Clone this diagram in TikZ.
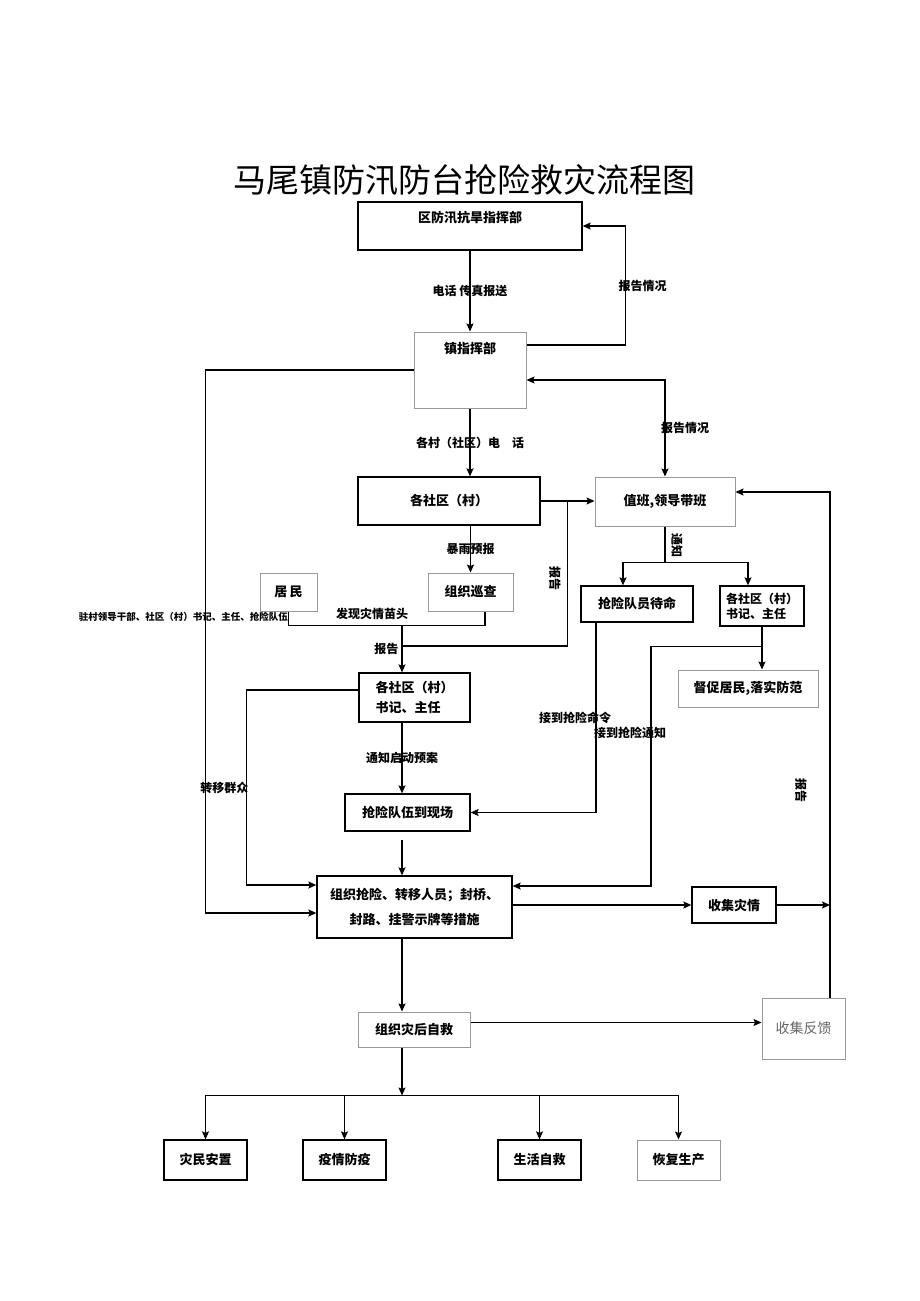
\documentclass[tikz,border=0pt]{standalone}
\usepackage{fontspec}
\newfontfamily\cjk{Noto Sans CJK SC}
\usetikzlibrary{arrows.meta,calc}

\tikzset{
  box/.style={draw, line width=1.3pt, inner sep=0pt, align=center,
    font=\cjk\bfseries\fontsize{13}{20}\selectfont},
  gbox/.style={box, draw=black!40, line width=1pt},
  txt/.style={inner sep=0pt, font=\cjk\bfseries\fontsize{13}{20}\selectfont},
  lbl/.style={inner sep=1pt, font=\cjk\bfseries\fontsize{12}{14}\selectfont},
  wire/.style={line width=1.3pt},
  link/.style={wire, -{Stealth[length=8pt,width=7pt,inset=1.5pt]}},
}

\begin{document}
\begin{tikzpicture}[x=1pt,y=-1pt]
    \useasboundingbox (0,0) rectangle (920,1301);

    % Cim
    \node[font=\cjk\fontsize{33}{36}\selectfont] (title) at (464,180) {马尾镇防汛防台抢险救灾流程图};

    % Felso dobozok
    \node[box, minimum width=224pt, minimum height=48pt] (qu) at (470,226) {};
    \node[txt] (quT) at (470,218) {区防汛抗旱指挥部};
    \node[gbox, minimum width=112pt, minimum height=76pt] (zhen) at (470,370) {};
    \node[txt] (zhenT) at (470,349) {镇指挥部};
    \node[box, minimum width=182pt, minimum height=48pt] (shequ) at (449,501) {各社区（村）};
    \node[gbox, minimum width=140pt, minimum height=49pt] (zhiban) at (665,501.5) {值班,领导带班};

    % Kozepso dobozok
    \node[gbox, minimum width=57pt, minimum height=38pt] (jumin) at (288.5,592) {居\,民};
    \node[gbox, minimum width=85pt, minimum height=38pt] (xuncha) at (470.5,592) {组织巡查};
    \node[box, minimum width=112pt, minimum height=36pt] (daiming) at (637,604) {抢险队员待命};
    \node[box, minimum width=84pt, minimum height=40pt, align=left,
      font=\cjk\bfseries\fontsize{12}{15}\selectfont] (shujiR) at (762,606) {各社区（村）\\书记、主任};
    \node[gbox, minimum width=140pt, minimum height=37pt] (duncu) at (748,688.5) {督促居民,落实防范};
    \node[box, minimum width=111pt, minimum height=49pt, align=left] (shujiM) at (414.5,697.5) {各社区（村）\\书记、主任};
    \node[box, minimum width=125pt, minimum height=37pt] (xianchang) at (407.5,812.5) {抢险队伍到现场};
    \node[box, minimum width=195pt, minimum height=62pt,
      font=\cjk\bfseries\fontsize{13}{25}\selectfont] (qiangxian) at (414.5,907) {组织抢险、转移人员；封桥、\\封路、挂警示牌等措施};
    \node[box, minimum width=84pt, minimum height=36pt] (zaiqing) at (734,905) {收集灾情};
    \node[gbox, minimum width=112pt, minimum height=35pt] (zijiu) at (414,1029.5) {组织灾后自救};
    \node[gbox, minimum width=83pt, minimum height=61pt, text=black!60,
      font=\cjk\fontsize{14}{18}\selectfont] (fankui) at (803.5,1028.5) {收集反馈};

    % Also dobozok
    \node[box, minimum width=83pt, minimum height=40pt] (anzhi) at (205.5,1160) {灾民安置};
    \node[box, minimum width=83pt, minimum height=40pt] (fangyi) at (344.5,1160) {疫情防疫};
    \node[box, minimum width=83pt, minimum height=40pt] (zijiuB) at (539.5,1160) {生活自救};
    \node[gbox, minimum width=83pt, minimum height=40pt] (huifu) at (678.5,1160) {恢复生产};

    % Segedpontok
    \coordinate (fx) at (402,625);
    \coordinate (fk) at ([xshift=26.5pt]fankui.north);

    % Felso nyilak
    \draw[link] (qu.south) -- node[lbl] {电话\ 传真报送} (zhen.north);
    \draw[link] ([yshift=25pt]zhen.east) -- ++(99,0) |- node[lbl, pos=0.25, xshift=17pt] {报告情况} (qu.east);
    \draw[wire, {Stealth[length=8pt,width=7pt,inset=1.5pt]}-{Stealth[length=8pt,width=7pt,inset=1.5pt]}]
      ([yshift=-10pt]zhen.east) -| node[lbl, pos=0.75, xshift=20pt] {报告情况} (zhiban.north);
    \draw[link] (zhen.south) -- node[lbl] {各村（社区）电\quad 话} (zhen.south |- shequ.north);
    \draw[link] (shequ.east) -- (shequ.east -| zhiban.west);
    \draw[link] (xuncha.north |- shequ.south) -- node[lbl] {暴雨预报} (xuncha.north);
    \draw[link] (zhen.west) -- ++(-208,0) |- ([yshift=-6pt]qiangxian.west);

    % Jelzes es bejelentes
    \draw[wire] (jumin.south) -- ++(0,14) -| ([xshift=14.5pt]xuncha.south);
    \node[lbl] (faxian) at (372,614) {发现灾情苗头};
    \node[lbl, left, font=\cjk\bfseries\fontsize{9.5}{11}\selectfont] (zhucun) at (289,617) {驻村领导干部、社区（村）书记、主任、抢险队伍};
    \draw[link] (fx) -- node[lbl, left, xshift=-2pt] {报告} (fx |- shujiM.north);
    \draw[wire] ($(fx)+(0,21)$) -| ($(shequ.east)!0.5!(zhiban.west)$);
    \node[lbl, rotate=-90] (baogaoA) at (555,578) {报告};

    % Ertesites
    \draw[wire] (zhiban.south) -- ++(0,36) coordinate (tz);
    \node[lbl, rotate=-90] (tongzhi) at (677,545) {通知};
    \draw[link] (tz) -| ([xshift=-14pt]daiming.north);
    \draw[link] (tz) -| ([xshift=-14pt]shujiR.north);
    \draw[link] (shujiR.south) -- (shujiR.south |- duncu.north);
    \draw[link] ([xshift=-41pt]daiming.south) |- node[lbl, pos=0.25, xshift=-21pt] {接到抢险命令} (xianchang.east);
    \draw[link] ([yshift=-20pt]shujiR.south) -- ++(-111,0) |- node[lbl, pos=0.18, xshift=-21pt] {接到抢险通知} ([yshift=21pt]qiangxian.east);
    \draw[link] ([yshift=7.5pt]shujiM.west) -- ++(-112,0) |- node[lbl, pos=0.25, xshift=-22pt] {转移群众} ([yshift=22pt]qiangxian.west);
    \draw[link] (fx |- shujiM.south) -- node[lbl] {通知启动预案} (fx |- xianchang.north);
    \draw[link] ($(fx |- xianchang.south)+(0,8)$) -- (fx |- qiangxian.north);

    % Karfelmeres
    \draw[link] (qiangxian.east |- zaiqing.west) -- (zaiqing.west);
    \draw[link] (zaiqing.east) -- (fk |- zaiqing.east);
    \draw[link] (fk) |- ([yshift=9.5pt]zhiban.east);
    \node[lbl, rotate=-90] (baogaoB) at (801,790) {报告};
    \draw[link] (fx |- qiangxian.south) -- (fx |- zijiu.north);
    \draw[link] ([yshift=7pt]zijiu.east) -- ([yshift=7pt]zijiu.east -| fankui.west);

    % Utomunkak
    \draw[link] (fx |- zijiu.south) -- ++(0,48) coordinate (bt);
    \foreach \b in {anzhi,fangyi,zijiuB,huifu}
      \draw[link] (bt) -| (\b.north);
\end{tikzpicture}
\end{document}
